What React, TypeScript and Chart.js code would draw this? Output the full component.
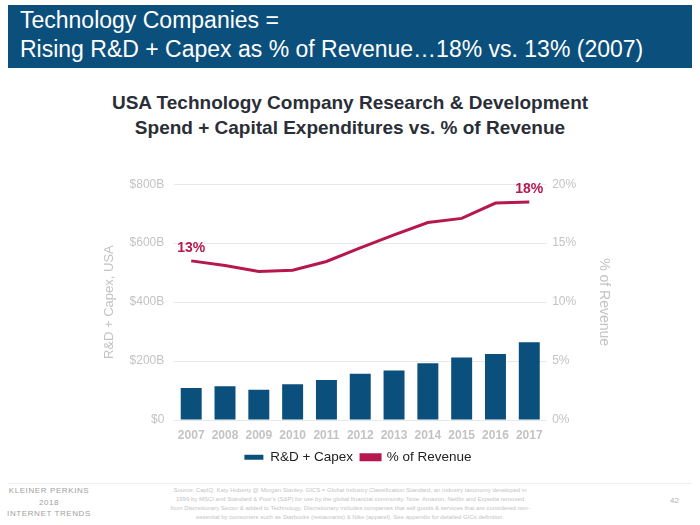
import React, { useEffect, useRef } from "react";
import { Chart, registerables } from "chart.js";

Chart.register(...registerables);

const years = ["2007", "2008", "2009", "2010", "2011", "2012", "2013", "2014", "2015", "2016", "2017"];
const spendB = [109, 115, 103, 122, 136, 157, 168, 193, 212, 224, 264];
const pctRevenue = [13.5, 13.1, 12.6, 12.7, 13.45, 14.6, 15.7, 16.75, 17.1, 18.4, 18.5];
const leftTicks = [0, 200, 400, 600, 800];
const rightTicks = [0, 5, 10, 15, 20];
const pointLabels: Record<number, string> = { 0: "13%", 10: "18%" };

const BLUE = "#0b4f7c";
const CRIMSON = "#b7174f";
const GRAY = "#c3c3c3";
const FONT = "'Liberation Sans', Arial, sans-serif";

const labelPlugin = {
  id: "endLabels",
  afterDatasetsDraw(chart: any) {
    const meta = chart.getDatasetMeta(1);
    const ctx = chart.ctx;
    ctx.save();
    ctx.fillStyle = CRIMSON;
    ctx.font = `bold 14px ${FONT}`;
    ctx.textAlign = "center";
    ctx.textBaseline = "bottom";
    Object.keys(pointLabels).forEach((k) => {
      const i = Number(k);
      const el = meta.data[i];
      if (el) ctx.fillText(pointLabels[i], el.x, el.y - 6);
    });
    ctx.restore();
  },
};

function ChartBox() {
  const ref = useRef<HTMLCanvasElement>(null);
  useEffect(() => {
    if (!ref.current) return;
    const chart = new Chart(ref.current, {
      type: "bar",
      data: {
        labels: years,
        datasets: [
          {
            type: "bar",
            label: "R&D + Capex",
            data: spendB,
            backgroundColor: BLUE,
            yAxisID: "y",
            barPercentage: 0.62,
            categoryPercentage: 1,
            order: 2,
          },
          {
            type: "line",
            label: "% of Revenue",
            data: pctRevenue,
            borderColor: CRIMSON,
            backgroundColor: CRIMSON,
            borderWidth: 3,
            pointRadius: 0,
            tension: 0,
            yAxisID: "y1",
            order: 1,
          },
        ],
      },
      options: {
        animation: false,
        responsive: false,
        maintainAspectRatio: false,
        layout: { padding: { left: 0, right: 0, top: 5, bottom: 6 } },
        plugins: {
          tooltip: { enabled: false },
          legend: {
            position: "bottom",
            labels: {
              boxWidth: 19,
              boxHeight: 5,
              color: "#222",
              font: { family: FONT, size: 13.5 },
              padding: 8,
              sort: (a: any, b: any) => a.datasetIndex - b.datasetIndex,
            },
          },
        },
        scales: {
          x: {
            grid: { display: false },
            border: { display: false },
            ticks: { color: GRAY, font: { family: FONT, size: 12, weight: "bold" }, padding: 0 },
          },
          y: {
            position: "left",
            min: 0,
            max: 800,
            afterBuildTicks: (s: any) => {
              s.ticks = leftTicks.map((v) => ({ value: v }));
            },
            ticks: {
              color: GRAY,
              font: { family: FONT, size: 12 },
              padding: 10,
              callback: (v: any) => (v === 0 ? "$0" : `$${v}B`),
            },
            grid: { color: "#e8e8e8", lineWidth: 1, drawTicks: false },
            border: { display: false },
            title: {
              display: true,
              text: "R&D + Capex, USA",
              color: GRAY,
              font: { family: FONT, size: 13 },
              padding: { top: 1, bottom: 2 },
            },
          },
          y1: {
            position: "right",
            min: 0,
            max: 20,
            afterBuildTicks: (s: any) => {
              s.ticks = rightTicks.map((v) => ({ value: v }));
            },
            ticks: {
              color: GRAY,
              font: { family: FONT, size: 12 },
              padding: 6,
              callback: (v: any) => `${v}%`,
            },
            grid: { display: false, drawTicks: false },
            border: { display: false },
            title: {
              display: true,
              text: "% of Revenue",
              color: GRAY,
              font: { family: FONT, size: 14 },
              padding: { top: 3, bottom: 13 },
            },
          },
        },
      } as any,
      plugins: [labelPlugin],
    });
    return () => chart.destroy();
  }, []);
  return <canvas ref={ref} width={514} height={313} style={{ position: "absolute", left: 101, top: 167, width: 514, height: 313 }} />;
}

export default function App() {
  return (
    <div style={{ position: "fixed", left: 0, top: 0, width: 700, height: 525, background: "#fff", fontFamily: FONT, overflow: "hidden" }}>
      <div style={{ position: "absolute", left: 8, top: 5, width: 684, height: 63, background: BLUE }}>
        <div style={{ position: "absolute", left: 12, top: 1, color: "#fff", fontSize: 23, lineHeight: "29px", whiteSpace: "nowrap" }}>
          Technology Companies =<br />Rising R&amp;D + Capex as % of Revenue…18% vs. 13% (2007)
        </div>
      </div>
      <div style={{ position: "absolute", left: 0, width: 700, top: 90, textAlign: "center", color: "#2a2e37", fontSize: 19, fontWeight: "bold", lineHeight: "25px" }}>
        USA Technology Company Research &amp; Development<br />Spend + Capital Expenditures vs. % of Revenue
      </div>
      <ChartBox />
      <div style={{ position: "absolute", left: 8, top: 483, width: 684, height: 1, background: "#eeeeee" }} />
      <div style={{ position: "absolute", left: 4, top: 485, width: 90, textAlign: "center", color: "#a0a0a0", fontSize: 8, lineHeight: "11.5px", letterSpacing: 0.6, whiteSpace: "nowrap" }}>
        KLEINER PERKINS<br />2018<br />INTERNET TRENDS
      </div>
      <div style={{ position: "absolute", left: 170, top: 486, width: 360, textAlign: "center", color: "#c4c4c4", fontSize: 6, lineHeight: "9px" }}>
        Source: CapIQ, Katy Huberty @ Morgan Stanley. GICS = Global Industry Classification Standard, an industry taxonomy developed in 1999 by MSCI and Standard &amp; Poor's (S&amp;P) for use by the global financial community. Note: Amazon, Netflix and Expedia removed from Discretionary Sector &amp; added to Technology. Discretionary includes companies that sell goods &amp; services that are considered non-essential by consumers such as Starbucks (restaurants) &amp; Nike (apparel). See appendix for detailed GICs definition.
      </div>
      <div style={{ position: "absolute", left: 670, top: 496, color: "#b0b0b0", fontSize: 8 }}>42</div>
    </div>
  );
}
